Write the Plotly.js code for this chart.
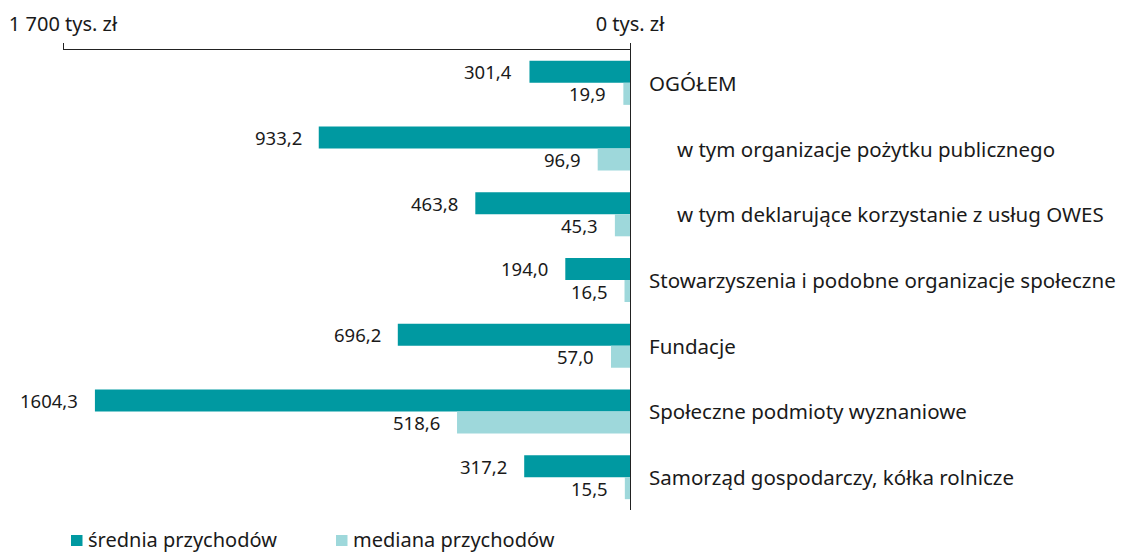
<!DOCTYPE html>
<html>
<head>
<meta charset="utf-8">
<script src="https://cdn.plot.ly/plotly-3.0.1.min.js"></script>
<style>html,body{margin:0;padding:0;background:#fff;}#chart{width:1123px;height:553px;}</style>
</head>
<body>
<div id="chart"></div>
<script>
const categories = [
  "OGÓŁEM",
  "w tym organizacje pożytku publicznego",
  "w tym deklarujące korzystanie z usług OWES",
  "Stowarzyszenia i podobne organizacje społeczne",
  "Fundacje",
  "Społeczne podmioty wyznaniowe",
  "Samorząd gospodarczy, kółka rolnicze"
];
const indented = [false, true, true, false, false, false, false];
const sredniaValues = [301.4, 933.2, 463.8, 194.0, 696.2, 1604.3, 317.2];
const medianaValues = [19.9, 96.9, 45.3, 16.5, 57.0, 518.6, 15.5];
const seriesNames = ["średnia przychodów", "mediana przychodów"];
const tickValues = [1700, 0];
const tickLabels = ["1 700 tys. zł", "0 tys. zł"];

const TEAL = "#0099a1";
const LIGHT = "#9ed8db";
const TXT = "#1a1a1a";
const FONT = "Noto Sans, sans-serif";

const fmt = v => v.toFixed(1).replace(".", ",");

const traces = [
  {type: "bar", orientation: "h", name: seriesNames[0], y: categories, x: sredniaValues,
   marker: {color: TEAL}, hoverinfo: "x+y"},
  {type: "bar", orientation: "h", name: seriesNames[1], y: categories, x: medianaValues,
   marker: {color: LIGHT}, hoverinfo: "x+y"}
];

const bargap = 0.33;
const half = (1 - bargap) / 4;
const annotations = [];
categories.forEach((c, i) => {
  annotations.push({x: sredniaValues[i], y: i - half, xref: "x", yref: "y", text: fmt(sredniaValues[i]),
    showarrow: false, xanchor: "right", yanchor: "middle", xshift: -15, font: {size: 18.5, color: TXT, family: FONT}});
  annotations.push({x: medianaValues[i], y: i + half, xref: "x", yref: "y", text: fmt(medianaValues[i]),
    showarrow: false, xanchor: "right", yanchor: "middle", xshift: -15, font: {size: 18.5, color: TXT, family: FONT}});
  annotations.push({x: 1, y: i, xref: "paper", yref: "y", text: c, showarrow: false,
    xanchor: "left", yanchor: "middle", xshift: indented[i] ? 45 : 17, font: {size: 20.5, color: TXT, family: FONT}});
});

// manual legend (symbol + label) placed below the plot
const PW = 567, PH = 460;
const legendX = [(71 - 63) / PW, (336 - 63) / PW];
const legendY = -(540.5 - 510) / PH;
const shapes = [];
[TEAL, LIGHT].forEach((col, k) => {
  shapes.push({type: "rect", xref: "paper", yref: "paper", x0: legendX[k], x1: legendX[k] + 11.5 / PW,
    y0: legendY - 5.5 / PH, y1: legendY + 5.5 / PH, fillcolor: col, line: {width: 0}});
  annotations.push({x: legendX[k] + 16 / PW, y: legendY + 1.5 / PH, xref: "paper", yref: "paper", text: seriesNames[k],
    showarrow: false, xanchor: "left", yanchor: "middle", xshift: -1, font: {size: 20, color: TXT, family: FONT}});
});

const layout = {
  width: 1123, height: 553,
  margin: {l: 63, r: 493, t: 50, b: 43},
  paper_bgcolor: "#fff", plot_bgcolor: "#fff",
  font: {family: FONT, size: 18, color: TXT},
  barmode: "group", bargap: bargap, bargroupgap: 0,
  xaxis: {range: [1700, 0], side: "top", showgrid: false, zeroline: false,
    showline: true, linecolor: "#222", linewidth: 1,
    ticks: "outside", ticklen: 6, tickcolor: "#222", tickwidth: 1, ticklabelstandoff: 4,
    tickvals: tickValues, ticktext: tickLabels, tickfont: {size: 20, color: TXT, family: FONT}},
  yaxis: {type: "category", autorange: "reversed", side: "right", showgrid: false, zeroline: false,
    showline: true, linecolor: "#222", linewidth: 1, showticklabels: false, ticks: ""},
  showlegend: false,
  shapes: shapes,
  annotations: annotations
};

Plotly.newPlot("chart", traces, layout, {displayModeBar: false, staticPlot: true});
</script>
</body>
</html>
